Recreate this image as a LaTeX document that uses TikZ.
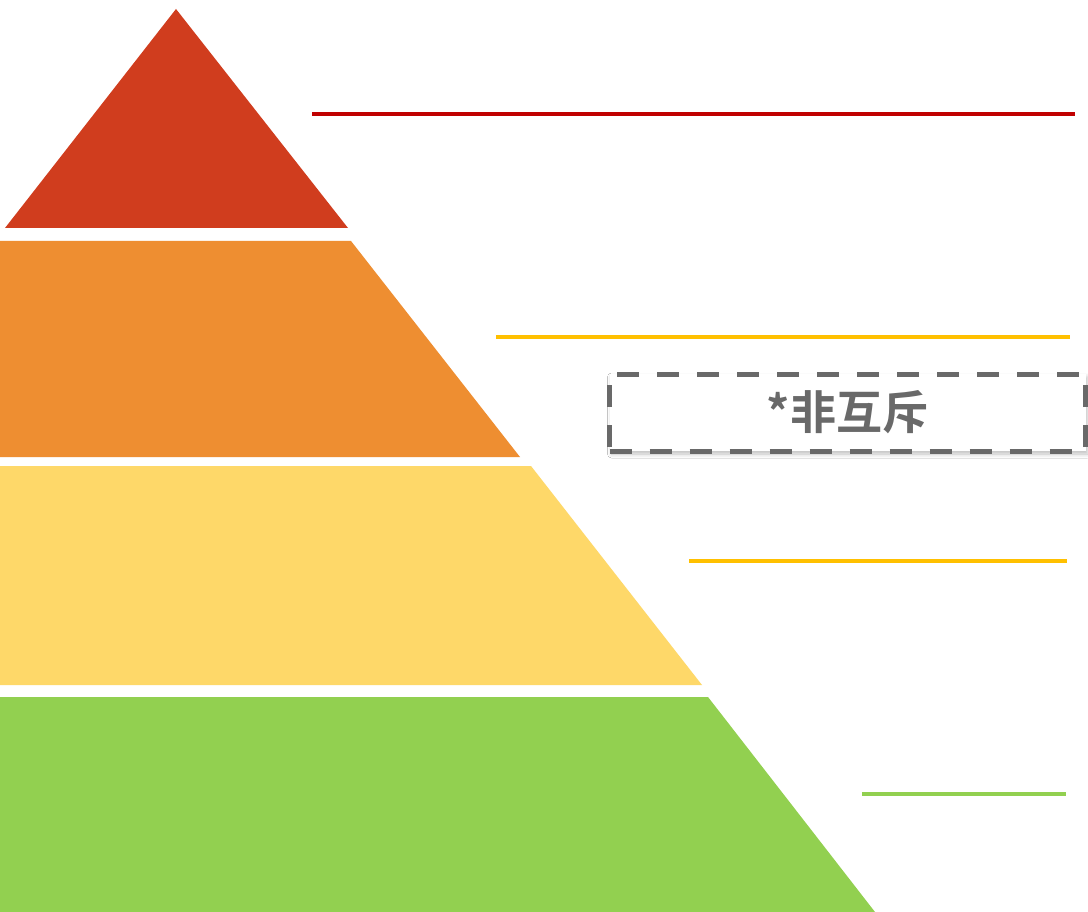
\documentclass[tikz,border=0pt]{standalone}
\usepackage{fontspec}
\newfontfamily\cjkbold[BoldFont={Noto Sans CJK SC Bold}]{Noto Sans CJK SC Bold}
\usetikzlibrary{shadows.blur}
\definecolor{tierred}{HTML}{D03D1E}
\definecolor{tierorange}{HTML}{EE8E31}
\definecolor{tieryellow}{HTML}{FED869}
\definecolor{tiergreen}{HTML}{92D050}
\definecolor{linered}{HTML}{C00000}
\definecolor{lineyellow}{HTML}{FFC000}
\definecolor{boxgray}{HTML}{696969}
\tikzset{
  tier/.style={draw=none},
  leader/.style={line width=4pt},
  notebox/.style={draw=boxgray, line width=5pt, dash pattern=on 22pt off 18pt,
    fill=white, minimum width=476pt, minimum height=77pt, inner sep=0pt,
    text=boxgray, font=\cjkbold\fontsize{46}{50}\selectfont,
    blur shadow={shadow xshift=2pt, shadow yshift=-3pt, shadow blur radius=4pt, shadow opacity=25}}
}
\begin{document}
\begin{tikzpicture}[x=1pt,y=-1pt]
\useasboundingbox[fill=white] (0,0) rectangle (1088,912);
% pyramid tiers
\fill[tier,tierred] (176,9) -- (348,228) -- (5,228) -- cycle;
\fill[tier,tierorange] (0,241) -- (351,241) -- (520,457) -- (0,457) -- cycle;
\fill[tier,tieryellow] (0,466) -- (531,466) -- (702,685) -- (0,685) -- cycle;
\fill[tier,tiergreen] (0,697) -- (708,697) -- (875,912) -- (0,912) -- cycle;
% leader lines
\coordinate (r1) at (312,114); \coordinate (r2) at (1075,114);
\coordinate (y1) at (496,337); \coordinate (y2) at (1070,337);
\coordinate (y3) at (689,560.5); \coordinate (y4) at (1067,560.5);
\coordinate (g1) at (862,794); \coordinate (g2) at (1066,794);
\draw[leader,linered] (r1) -- (r2);
\draw[leader,lineyellow] (y1) -- (y2);
\draw[leader,lineyellow] (y3) -- (y4);
\draw[leader,tiergreen] (g1) -- (g2);
% note box
\node[notebox] (note) at (847.5,412.5) {*非互斥};
\end{tikzpicture}
\end{document}
